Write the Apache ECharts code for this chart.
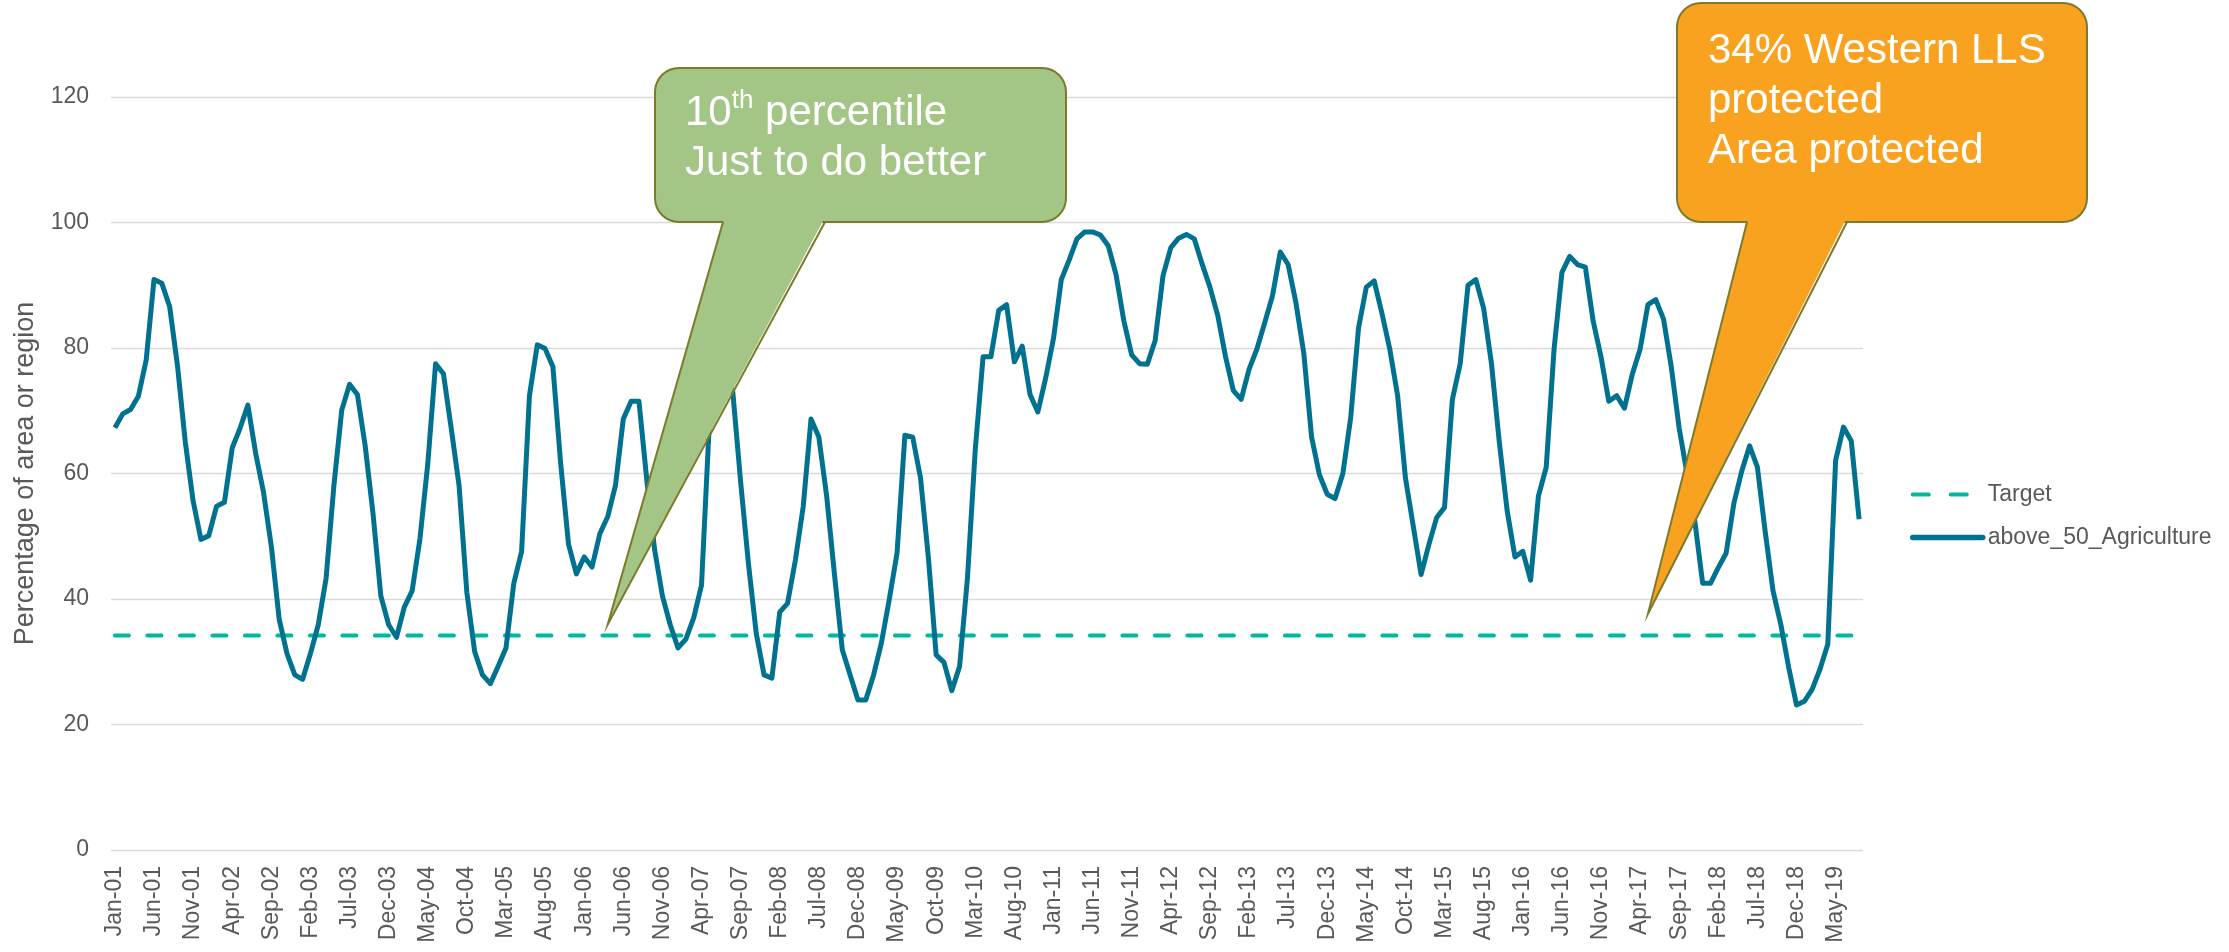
<!DOCTYPE html>
<html><head><meta charset="utf-8">
<script src="https://cdn.jsdelivr.net/npm/echarts@6/dist/echarts.min.js"></script>
<style>html,body{margin:0;padding:0;background:#fff}#c{width:2229px;height:952px}</style>
</head><body><div id="c"></div>
<script>
// ---- data ----
const monthNames = ['Jan','Feb','Mar','Apr','May','Jun','Jul','Aug','Sep','Oct','Nov','Dec'];
const firstYear = 2001;
const monthCount = 224; // Jan-01 .. Aug-19
const categories = [];
for (let i = 0; i < monthCount; i++) {
  const yy = (firstYear + Math.floor(i / 12)) % 100;
  categories.push(monthNames[i % 12] + '-' + String(yy).padStart(2, '0'));
}
const agricultureValues = [
  67.3, 69.5, 70.2, 72.3, 78.1, 90.9, 90.3, 86.6, 77.2, 65.0, 55.6, 49.5,
  50.1, 54.8, 55.4, 64.1, 67.2, 70.9, 63.2, 57.0, 48.4, 36.8, 31.3, 27.9,
  27.2, 31.3, 35.9, 43.3, 58.1, 70.1, 74.2, 72.6, 64.4, 53.6, 40.5, 35.9,
  33.9, 38.7, 41.3, 49.6, 61.5, 77.5, 75.9, 67.2, 58.1, 41.0, 31.6, 27.9,
  26.5, 29.3, 32.2, 42.5, 47.6, 72.4, 80.5, 79.9, 77.0, 61.5, 48.7, 44.0,
  46.7, 45.1, 50.4, 53.1, 58.1, 68.7, 71.5, 71.5, 59.0, 47.9, 40.5, 35.9,
  32.2, 33.6, 37.0, 42.2, 68.0, 76.0, 77.5, 73.0, 58.7, 45.6, 34.5, 27.9,
  27.4, 37.9, 39.3, 46.2, 54.7, 68.7, 65.8, 56.4, 43.9, 31.9, 27.9, 23.9,
  23.9, 27.9, 33.0, 39.9, 47.3, 66.1, 65.8, 59.3, 46.7, 31.1, 29.9, 25.4,
  29.3, 43.3, 63.8, 78.6, 78.6, 86.0, 86.9, 77.8, 80.3, 72.6, 69.8, 75.2,
  81.5, 90.9, 94.0, 97.4, 98.5, 98.5, 98.0, 96.3, 91.7, 84.3, 78.9, 77.5,
  77.4, 81.2, 91.5, 96.0, 97.5, 98.1, 97.4, 93.4, 89.7, 85.2, 78.6, 73.2,
  71.8, 76.6, 79.8, 84.0, 88.3, 95.3, 93.3, 87.2, 79.2, 65.8, 59.8, 56.7,
  56.0, 60.0, 68.9, 83.2, 89.7, 90.7, 85.5, 79.8, 72.4, 59.3, 51.6, 43.9,
  48.7, 53.0, 54.6, 71.8, 77.5, 90.0, 90.9, 86.3, 77.5, 65.0, 54.1, 46.7,
  47.6, 43.0, 56.4, 61.0, 79.8, 92.0, 94.6, 93.3, 92.9, 84.3, 78.6, 71.5,
  72.4, 70.4, 75.8, 79.8, 86.9, 87.7, 84.6, 76.9, 67.2, 60.0, 52.4, 42.5,
  42.5, 45.0, 47.3, 55.3, 60.4, 64.4, 61.0, 50.7, 41.3, 35.9, 29.1, 23.1,
  23.7, 25.6, 28.8, 32.8, 62.1, 67.4, 65.2, 52.7
];
const targetValue = 34.2;
const targetValues = categories.map(() => targetValue);
const yTicks = [0, 20, 40, 60, 80, 100, 120];
const seriesNames = ['Target', 'above_50_Agriculture'];
const yAxisTitle = 'Percentage of area or region';
// callout anchors (category, value) where the pointer tips sit
const greenAnchor = ['Apr-06', 35.9];
const orangeAnchor = ['May-17', 37.6];

// ---- chart ----
const FONT = '"Liberation Sans", Arial, sans-serif';
const TARGET_COLOR = '#00B89F';
const MAIN_COLOR = '#00718F';
const chart = echarts.init(document.getElementById('c'), null, {renderer: 'canvas'});
const option = {
  animation: false,
  backgroundColor: '#ffffff',
  grid: {left: 111, right: 366, top: 97, bottom: 102, containLabel: false},
  legend: {
    orient: 'vertical', left: 1905, top: 478,
    itemWidth: 70, itemHeight: 14, itemGap: 20,
    itemStyle: {opacity: 0},
    textStyle: {color: '#595959', fontSize: 23, fontFamily: FONT},
    data: [
      {name: seriesNames[0], itemStyle: {opacity: 0},
       lineStyle: {color: TARGET_COLOR, width: 4, type: [16, 22], cap: 'round'}},
      {name: seriesNames[1], itemStyle: {opacity: 0},
       lineStyle: {color: MAIN_COLOR, width: 5.5, type: 'solid', cap: 'round'}}
    ]
  },
  xAxis: {
    type: 'category', data: categories, boundaryGap: true,
    axisLine: {show: false}, axisTick: {show: false},
    axisLabel: {interval: 4, rotate: 90, color: '#595959', fontSize: 23, fontFamily: FONT, margin: 16}
  },
  yAxis: {
    type: 'value', min: yTicks[0], max: yTicks[yTicks.length - 1], interval: 20,
    name: yAxisTitle, nameLocation: 'middle', nameRotate: 90, nameGap: 72,
    nameTextStyle: {color: '#595959', fontSize: 27, fontFamily: FONT},
    axisLine: {show: false}, axisTick: {show: false},
    axisLabel: {color: '#595959', fontSize: 23, fontFamily: FONT, margin: 22},
    splitLine: {lineStyle: {color: '#d9d9d9', width: 1.3}}
  },
  series: [
    {
      name: seriesNames[0], type: 'line', data: targetValues, symbol: 'none',
      lineStyle: {color: TARGET_COLOR, width: 4, type: [14, 18.5], cap: 'round'},
      itemStyle: {color: TARGET_COLOR}, z: 2
    },
    {
      name: seriesNames[1], type: 'line', data: agricultureValues, symbol: 'none',
      lineStyle: {color: MAIN_COLOR, width: 5, join: 'round'},
      itemStyle: {color: MAIN_COLOR}, z: 3
    }
  ]
};
chart.setOption(option);

function callout(box, baseL, baseR, tip, fill, stroke) {
  return [
    {type: 'rect', z: 100, shape: {x: box.x0, y: box.y0, width: box.x1 - box.x0, height: box.y1 - box.y0, r: box.r},
     style: {fill: fill, stroke: stroke, lineWidth: 2}},
    {type: 'polygon', z: 101, shape: {points: [[baseL + 1, box.y1 - 3], [tip[0], tip[1]], [baseR - 1, box.y1 - 3]]},
     style: {fill: fill, stroke: null}},
    {type: 'polyline', z: 102, shape: {points: [[baseL, box.y1], [tip[0], tip[1]], [baseR, box.y1]]},
     style: {fill: null, stroke: stroke, lineWidth: 2, lineJoin: 'miter'}}
  ];
}
const gTip = chart.convertToPixel({gridIndex: 0}, [categories.indexOf(greenAnchor[0]), greenAnchor[1]]);
const oTip = chart.convertToPixel({gridIndex: 0}, [categories.indexOf(orangeAnchor[0]), orangeAnchor[1]]);
const greenBox = {x0: 655, y0: 68, x1: 1066, y1: 222, r: 24};
const orangeBox = {x0: 1677, y0: 3, x1: 2087, y1: 222, r: 24};
const graphics = []
  .concat(callout(greenBox, 723, 825, gTip, '#A3C586', '#7B7B2A'))
  .concat(callout(orangeBox, 1747, 1847, oTip, '#F8A21F', '#7B7B2A'))
  .concat([
    {type: 'text', z: 110, x: 685, y: 88,
     style: {text: '{n|10}{s|th}{n| percentile}\n{n|Just to do better}', fill: '#ffffff',
       fontFamily: FONT, fontSize: 42, lineHeight: 50, verticalAlign: 'top',
       rich: {n: {fontSize: 42, lineHeight: 50, fill: '#ffffff', fontFamily: FONT},
              s: {fontSize: 26, lineHeight: 34, verticalAlign: 'top', fill: '#ffffff', fontFamily: FONT}}}},
    {type: 'text', z: 110, x: 1708, y: 26,
     style: {text: '34% Western LLS\nprotected\nArea protected', fill: '#ffffff',
       fontFamily: FONT, fontSize: 42, lineHeight: 50, verticalAlign: 'top'}}
  ]);
chart.setOption({graphic: graphics});
</script></body></html>
